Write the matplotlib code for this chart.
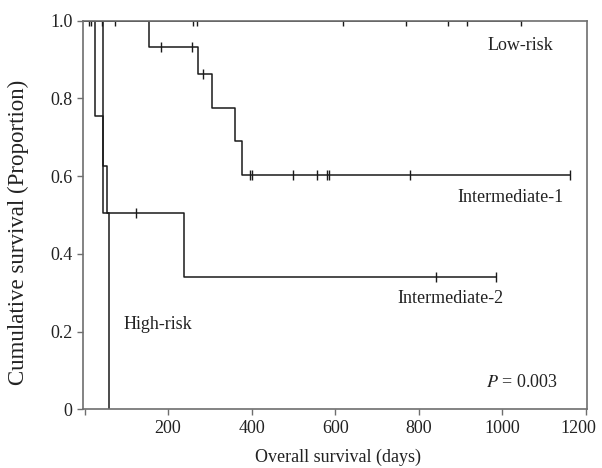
import numpy as np
import matplotlib
matplotlib.use("Agg")
import matplotlib.pyplot as plt
import matplotlib.transforms as mtransforms

# Kaplan-Meier step data (days, survival proportion)
low_times = [0, 1044]
low_surv = [1.0, 1.0]
low_cens = [11, 15, 42, 259, 268, 618, 769, 871, 916, 1044]

int1_times = [0, 154, 272, 306, 360, 377, 1161]
int1_surv = [1.0, 0.933, 0.862, 0.776, 0.690, 0.604, 0.604]
int1_cens = [74, 184, 258, 284, 396, 400, 498, 556, 580, 584, 779, 1161]

int2_times = [0, 25, 45, 238, 984]
int2_surv = [1.0, 0.755, 0.504, 0.340, 0.340]
int2_cens = [123, 841, 984]

high_times = [0, 43, 54, 59]
high_surv = [1.0, 0.627, 0.506, 0.0]

x_ticks = [0, 200, 400, 600, 800, 1000, 1200]
x_labels = ["", "200", "400", "600", "800", "1000", "1200"]
y_ticks = [0, 0.2, 0.4, 0.6, 0.8, 1.0]
y_labels = ["0", "0.2", "0.4", "0.6", "0.8", "1.0"]

plt.rcParams["font.family"] = ["Liberation Serif", "DejaVu Serif"]
plt.rcParams["mathtext.fontset"] = "stix"

LINE = "#1a1a1a"
SPINE = "#6e6e6e"
TXT = "#222222"


def surv_at(times, surv, t):
    i = np.searchsorted(times, t, side="right") - 1
    return surv[i]


fig = plt.figure(figsize=(6.02, 4.68), dpi=100)
ax = fig.add_axes([0.138, 0.1254, 0.8366, 0.8304])

curves = [
    (low_times, low_surv, low_cens),
    (int1_times, int1_surv, int1_cens),
    (int2_times, int2_surv, int2_cens),
    (high_times, high_surv, []),
]
for times, surv, cens in curves:
    ax.step(times, surv, where="post", color=LINE, lw=1.1)
    if cens:
        cs = [surv_at(times, surv, c) for c in cens]
        ax.plot(cens, cs, "|", ms=7, mew=1.0, color=LINE)

fs = 13
ax.text(1044, 0.935, "Low-risk", ha="center", va="center", fontsize=fs, color=TXT)
ax.text(1019, 0.544, "Intermediate-1", ha="center", va="center", fontsize=fs, color=TXT)
ax.text(875, 0.284, "Intermediate-2", ha="center", va="center", fontsize=fs, color=TXT)
ax.text(94, 0.217, "High-risk", ha="left", va="center", fontsize=fs, color=TXT)
ax.text(1134, 0.068, "$P$ = 0.003", ha="right", va="center", fontsize=fs, color=TXT)

ax.set_xlim(-3.5, 1202)
ax.set_ylim(0, 1.0)
ax.set_xticks(x_ticks)
ax.set_xticklabels(x_labels)
ax.set_yticks(y_ticks)
ax.set_yticklabels(y_labels)
ax.tick_params(labelsize=fs, color=SPINE, length=4, width=1.0, labelcolor=TXT)
for s in ax.spines.values():
    s.set_color(SPINE)
    s.set_linewidth(1.2)

# last x label sits a little left of its tick so it stays inside the figure
last = ax.get_xticklabels()[-1]
last.set_transform(last.get_transform() +
                   mtransforms.ScaledTranslation(-0.08, 0, fig.dpi_scale_trans))

ax.set_xlabel("Overall survival (days)", fontsize=13, color=TXT)
ax.xaxis.set_label_coords(0.507, -0.102)
ax.set_ylabel("Cumulative survival (Proportion)", fontsize=16.5, color=TXT)
ax.yaxis.set_label_coords(-0.107, 0.456)

plt.savefig("out.png", dpi=100)
plt.close()
